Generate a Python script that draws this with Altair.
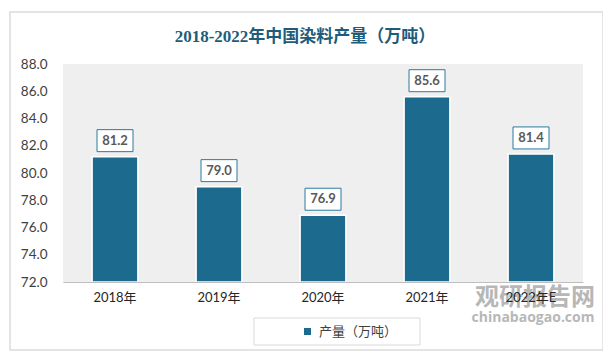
import altair as alt
import pandas as pd

years = ["2018年", "2019年", "2020年", "2021年", "2022年E"]
values = [81.2, 79.0, 76.9, 85.6, 81.4]
series = ["产量（万吨）"] * 5
y_ticks = [72, 74, 76, 78, 80, 82, 84, 86, 88]
title_text = "2018-2022年中国染料产量（万吨）"

df = pd.DataFrame({"year": years, "value": values, "series": series})

BAR = "#1c6b8e"
W, H = 520, 218

x_enc = alt.X("year:N", sort=years, title=None,
              scale=alt.Scale(paddingInner=0.56, paddingOuter=0.28),
              axis=alt.Axis(labelAngle=0, labelFont="Lato, Noto Sans CJK SC", labelFontSize=13,
                            labelColor="#262626", ticks=False, domainColor="#bfbfbf",
                            domainWidth=1, labelPadding=9, zindex=1))
y_enc = alt.Y("value:Q", title=None,
              scale=alt.Scale(domain=[72, 88], zero=False, nice=False),
              axis=alt.Axis(values=y_ticks, format=".1f", grid=False, ticks=False, domain=False,
                            labelFont="Lato, Noto Sans CJK SC", labelFontSize=13.5,
                            labelColor="#404040", labelPadding=16, zindex=1,
                            labelOverlap=False))

base = alt.Chart(df)
one = alt.datum.year == "2018年"

card = base.mark_rect(fill="white", stroke="#dcdcdc", strokeWidth=1.5).encode(
    x=alt.value(-53), x2=alt.value(540), y=alt.value(-52), y2=alt.value(286)
).transform_filter(one)

plotbg = base.mark_rect(fill="#efefef").encode(
    x=alt.value(0), x2=alt.value(W), y=alt.value(0), y2=alt.value(H)
).transform_filter(one)

legbox = base.mark_rect(fill="white", stroke="#d9d9d9", strokeWidth=1).encode(
    x=alt.value(191), x2=alt.value(357), y=alt.value(254), y2=alt.value(281)
).transform_filter(one)

title = base.mark_text(text=title_text, fontSize=17, fontWeight="bold", color="#1f5c7c",
                       font="Liberation Serif, Noto Sans CJK SC", baseline="middle").encode(
    x=alt.value(242), y=alt.value(-27)).transform_filter(one)

bars = base.mark_bar(stroke="white", strokeWidth=1.5).encode(
    x=x_enc, y=y_enc, y2=alt.datum(72),
    color=alt.Color("series:N", scale=alt.Scale(range=[BAR]), title=None,
                    legend=alt.Legend(orient="none", legendX=238, legendY=261, symbolType="square",
                                      symbolSize=49, symbolStrokeWidth=0, labelFontSize=13,
                                      labelFont="Noto Sans CJK SC", labelColor="#404040",
                                      padding=0, labelOffset=5))
)

boxes = base.mark_point(
    shape="M-1,-0.611L1,-0.611L1,0.611L-1,0.611Z", size=1296, filled=True,
    fill="white", stroke="#2a7aa0", strokeWidth=1, opacity=1, yOffset=-16
).encode(x=x_enc, y=y_enc)

labels = base.mark_text(fontWeight="bold", fontSize=13, color="#595959", dy=-16,
                        font="Lato, Noto Sans CJK SC", baseline="middle").encode(
    x=x_enc, y=y_enc, text=alt.Text("value:Q", format=".1f"))

wm1 = base.mark_text(text="观研报告网", fontSize=24, fontWeight="bold", color="#9a9a9a",
                     opacity=0.7, font="Noto Sans CJK SC").encode(
    x=alt.value(472), y=alt.value(234)).transform_filter(one)
wm2 = base.mark_text(text="chinabaogao.com", fontSize=14, fontWeight="bold", color="#9a9a9a",
                     opacity=0.7, font="Open Sans").encode(
    x=alt.value(470), y=alt.value(254)).transform_filter(one)

chart = alt.layer(card, plotbg, legbox, title, bars, boxes, labels, wm1, wm2).properties(
    width=W, height=H,
    autosize=alt.AutoSizeParams(type="none"),
    padding={"left": 55, "top": 56, "right": 20, "bottom": 74},
    background="white",
).configure_view(stroke=None)

chart.save("out.html", embed_options={"renderer": "svg", "actions": False})
